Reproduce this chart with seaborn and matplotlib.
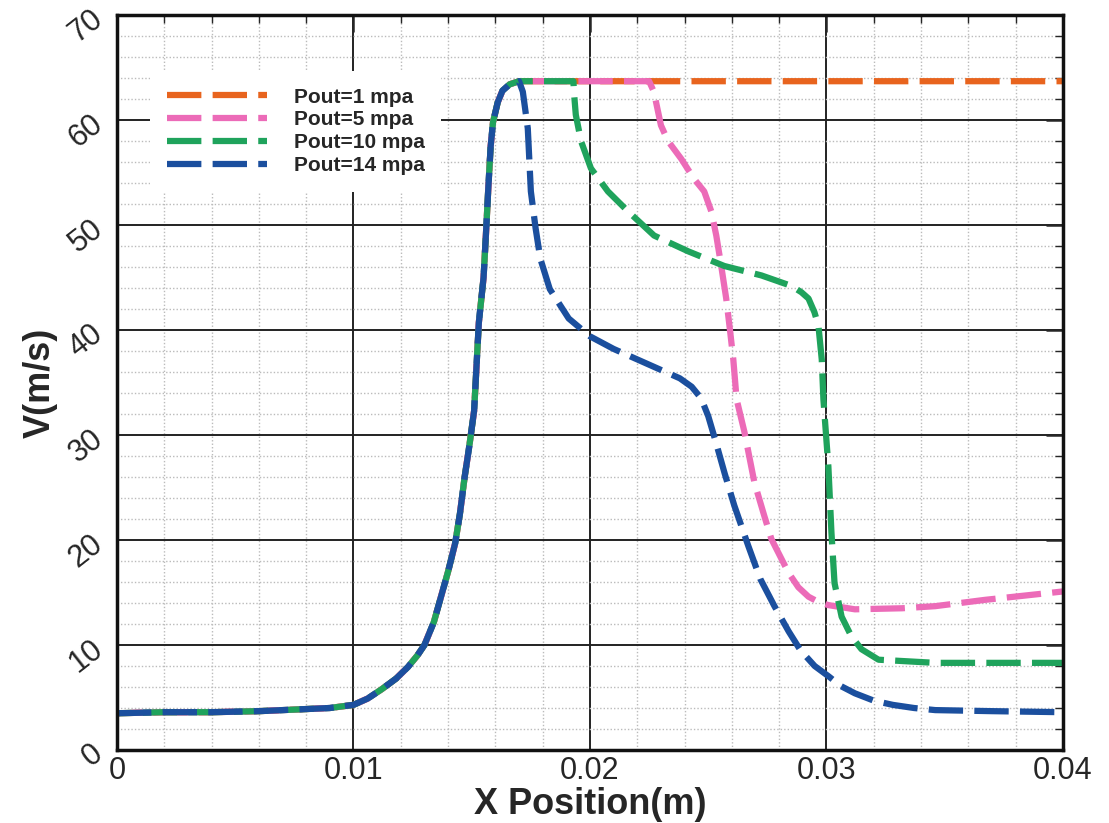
import numpy as np
import pandas as pd
import matplotlib
matplotlib.use("Agg")
import matplotlib.pyplot as plt
import seaborn as sns
from matplotlib.ticker import MultipleLocator, FixedLocator

# ---- data ----
x_base = [0.0, 0.002, 0.004, 0.006, 0.008, 0.009, 0.0100, 0.0106, 0.0112, 0.0118,
          0.0123, 0.0127, 0.0130, 0.0134, 0.0137, 0.0140, 0.0143, 0.0145, 0.0147, 0.0149,
          0.0151, 0.0152, 0.0153, 0.0155, 0.0156, 0.0157, 0.0158, 0.0159, 0.0161, 0.0163,
          0.0166, 0.0170]
v_base = [3.5, 3.6, 3.6, 3.7, 3.9, 4.0, 4.3, 4.9, 5.8, 6.8,
          7.9, 9.0, 10.0, 12.2, 14.6, 17.0, 19.7, 22.5, 26.0, 29.0,
          32.3, 36.5, 40.7, 45.0, 49.1, 53.5, 57.5, 59.8, 61.7, 62.8,
          63.4, 63.7]

x_p1 = [0.040]
v_p1 = [63.7]

x_p5 = [0.0225, 0.02258, 0.0227, 0.0230, 0.0233, 0.02386, 0.0244, 0.02483, 0.02513, 0.02534,
        0.02555, 0.02576, 0.02593, 0.02606, 0.0262, 0.02653, 0.02695, 0.02737, 0.02767, 0.02839,
        0.02881, 0.02924, 0.02966, 0.03008, 0.0312, 0.0332, 0.0346, 0.0367, 0.0400]
v_p5 = [63.7, 63.3, 62.7, 59.5, 58.0, 56.3, 54.4, 53.2, 51.3, 49.0,
        46.1, 43.0, 39.8, 37.2, 33.4, 30.3, 25.5, 22.3, 20.1, 16.9,
        15.5, 14.6, 14.1, 13.8, 13.4, 13.5, 13.7, 14.3, 15.1]

x_p10 = [0.0193, 0.01932, 0.0194, 0.01962, 0.02004, 0.02076, 0.02161, 0.02271, 0.02415, 0.02568,
         0.02725, 0.02852, 0.02894, 0.02924, 0.02949, 0.02966, 0.0298, 0.02987, 0.03008, 0.03021,
         0.03034, 0.03064, 0.03106, 0.03148, 0.0322, 0.0346, 0.0400]
v_p10 = [63.7, 62.7, 60.5, 58.0, 55.4, 53.2, 51.3, 49.0, 47.5, 46.1,
         45.2, 44.2, 43.6, 43.0, 41.7, 40.4, 37.2, 33.4, 27.0, 20.7,
         15.9, 12.7, 10.8, 9.6, 8.6, 8.3, 8.3]

x_p14 = [0.01716, 0.01737, 0.0175, 0.0177, 0.0179, 0.0183, 0.0191, 0.0200, 0.0210, 0.0222,
         0.0232, 0.0238, 0.0243, 0.0247, 0.0250, 0.0253, 0.0257, 0.0261, 0.0267, 0.0272,
         0.0278, 0.0284, 0.0289, 0.0295, 0.0301, 0.0306, 0.0312, 0.0320, 0.0328, 0.0337,
         0.0346, 0.0370, 0.0400]
v_p14 = [62.7, 59.2, 53.2, 49.7, 46.8, 43.9, 41.1, 39.4, 38.2, 37.0,
         36.0, 35.4, 34.6, 33.5, 31.8, 29.5, 26.3, 23.3, 19.4, 16.3,
         13.7, 11.3, 9.5, 8.0, 7.0, 6.1, 5.4, 4.7, 4.3, 4.0,
         3.8, 3.7, 3.6]

labels = ["Pout=1 mpa", "Pout=5 mpa", "Pout=10 mpa", "Pout=14 mpa"]
colors = ["#E8641E", "#EC6BB8", "#1FA35C", "#1B4F9E"]

x_ticks = [0, 0.01, 0.02, 0.03, 0.04]
x_tick_labels = ["0", "0.01", "0.02", "0.03", "0.04"]
y_ticks = [0, 10, 20, 30, 40, 50, 60, 70]

# ---- build long table ----
tails = [(x_p1, v_p1), (x_p5, v_p5), (x_p10, v_p10), (x_p14, v_p14)]
rows = []
for lab, (xt, vt) in zip(labels, tails):
    xs = [x for x in x_base if x < xt[0]] + list(xt)
    vs = [v for x, v in zip(x_base, v_base) if x < xt[0]] + list(vt)
    for x, v in zip(xs, vs):
        rows.append({"x": x, "v": v, "series": lab})
df = pd.DataFrame(rows)

sns.set_style("white")
plt.rcParams["font.family"] = ["Liberation Sans", "DejaVu Sans"]

fig = plt.figure(figsize=(11.09, 8.23), dpi=100)
ax = fig.add_axes([0.1055, 0.0887, 0.853, 0.893])

sns.lineplot(data=df, x="x", y="v", hue="series", hue_order=labels,
             palette=dict(zip(labels, colors)), estimator=None, sort=False,
             units="series", linewidth=4.5, ax=ax, legend=True)

offsets = [1.5, 5.0, 3.2, 0.0]
for line, off in zip(ax.get_lines()[:4], offsets):
    line.set_linestyle((off, (5.5, 1.8)))
    line.set_dash_capstyle("butt")
    line.set_dash_joinstyle("round")

ax.set_xlim(0, 0.04)
ax.set_ylim(0, 70)
ax.xaxis.set_major_locator(FixedLocator(x_ticks))
ax.set_xticklabels(x_tick_labels)
ax.xaxis.set_minor_locator(MultipleLocator(0.002))
ax.yaxis.set_major_locator(FixedLocator(y_ticks))
ax.yaxis.set_minor_locator(MultipleLocator(2))

ax.grid(which="major", color="#222222", linewidth=1.4, linestyle="-")
ax.grid(which="minor", color="#bbbbbb", linewidth=1.0, linestyle=(0, (1, 1.5)))
ax.set_axisbelow(True)

ax.tick_params(which="major", direction="in", length=12, width=1.8,
               top=True, right=True, labelsize=22)
ax.tick_params(which="minor", direction="in", length=6, width=1.0,
               top=True, right=True)
for lab in ax.get_yticklabels():
    lab.set_rotation(38)
ax.tick_params(axis="y", pad=6)
ax.tick_params(axis="x", pad=4)

for s in ax.spines.values():
    s.set_visible(True)
    s.set_color("#111111")
    s.set_linewidth(2.5)

ax.set_xlabel("X Position(m)", fontsize=26, fontweight="bold")
ax.xaxis.set_label_coords(0.5, -0.05)
ax.set_ylabel("V(m/s)", fontsize=26, fontweight="bold", labelpad=4)

leg = ax.legend(loc="upper left", bbox_to_anchor=(0.024, 0.938), frameon=True,
                prop={"weight": "bold", "size": 15}, handlelength=4.8,
                handletextpad=1.3, labelspacing=0.18, borderpad=0.8)
leg.get_frame().set_facecolor("white")
leg.get_frame().set_edgecolor("none")
leg.get_frame().set_alpha(1.0)
for h in leg.get_lines():
    h.set_linewidth(4.5)
    h.set_linestyle((0, (5.5, 1.8)))

fig.savefig("out.png", dpi=100)
